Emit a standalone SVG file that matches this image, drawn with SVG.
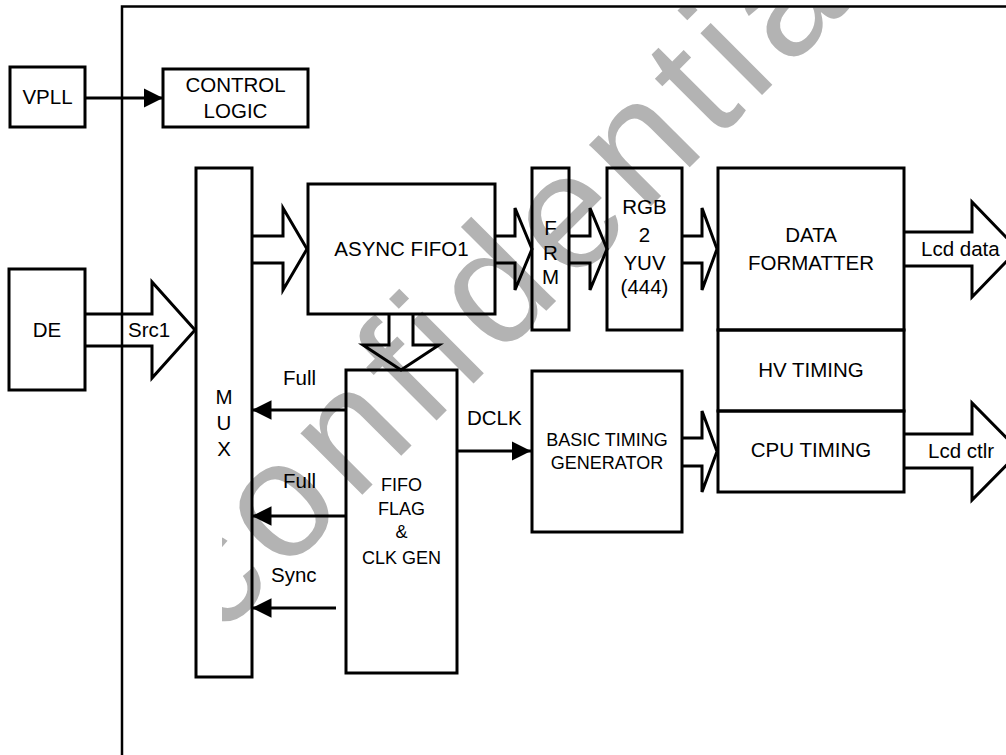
<svg xmlns="http://www.w3.org/2000/svg" width="1006" height="755" viewBox="0 0 1006 755">
<style>
.box{fill:none;stroke:#000;stroke-width:3}
.blk{fill:none;stroke:#000;stroke-width:3;stroke-linejoin:miter}
.ln{fill:none;stroke:#000;stroke-width:3}
.t{font-family:"Liberation Sans",Arial,sans-serif;font-size:20.5px;fill:#000;text-anchor:middle}
.s{font-size:18px}
.l{text-anchor:start}
.wm{font-family:"Liberation Sans",Arial,sans-serif;font-size:165px;fill:#b3b3b3;letter-spacing:10px}
</style>
<defs>
<marker id="ah" viewBox="0 0 10 10" refX="10" refY="5" markerWidth="6.5" markerHeight="7" markerUnits="strokeWidth" orient="auto">
<path d="M0,0 L10,5 L0,10 z" fill="#000"/>
</marker>
<clipPath id="wmclip"><rect x="222" y="7.5" width="784" height="748"/></clipPath>
</defs>
<rect width="1006" height="755" fill="#fff"/>
<g id="watermark" clip-path="url(#wmclip)">
<text class="wm" x="217" y="640" transform="rotate(-45 217 640)">confidential</text>
</g>
<path id="frame" d="M122,755 V6.5 H1006" fill="none" stroke="#000" stroke-width="2.5"/>
<g id="vpll"><rect class="box" x="10" y="67" width="75" height="60"/><text class="t" x="47.5" y="104">VPLL</text></g>
<g id="control_logic"><rect class="box" x="163" y="69" width="145" height="58"/><text class="t" x="235.5" y="92">CONTROL</text><text class="t" x="235.5" y="118">LOGIC</text></g>
<g id="de"><rect class="box" x="9" y="269" width="76" height="121"/><text class="t" x="47" y="337">DE</text></g>
<g id="mux"><rect class="box" x="196" y="168" width="56" height="509"/><text class="t" x="224" y="404">M</text><text class="t" x="224" y="430">U</text><text class="t" x="224" y="456">X</text></g>
<g id="async_fifo1"><rect class="box" x="308" y="184" width="187" height="130"/><text class="t" x="401.5" y="256">ASYNC FIFO1</text></g>
<g id="frm"><rect class="box" x="532" y="168" width="37" height="162"/><text class="t" x="550.5" y="235">F</text><text class="t" x="550.5" y="260">R</text><text class="t" x="550.5" y="284">M</text></g>
<g id="rgb2yuv"><rect class="box" x="607" y="168" width="75" height="162"/><text class="t" x="644.5" y="214">RGB</text><text class="t" x="644.5" y="242">2</text><text class="t" x="644.5" y="270">YUV</text><text class="t" x="644.5" y="294">(444)</text></g>
<g id="data_formatter"><rect class="box" x="718" y="168" width="186" height="162"/><text class="t" x="811" y="242">DATA</text><text class="t" x="811" y="270">FORMATTER</text></g>
<g id="hv_timing"><rect class="box" x="718" y="330" width="186" height="81"/><text class="t" x="811" y="377">HV TIMING</text></g>
<g id="cpu_timing"><rect class="box" x="718" y="411" width="186" height="81"/><text class="t" x="811" y="457">CPU TIMING</text></g>
<g id="fifo_flag"><rect class="box" x="346" y="370" width="111" height="303"/><text class="t s" x="401.5" y="491">FIFO</text><text class="t s" x="401.5" y="515">FLAG</text><text class="t s" x="401.5" y="538">&amp;</text><text class="t s" x="401.5" y="564">CLK GEN</text></g>
<g id="basic_timing"><rect class="box" x="532" y="371" width="150" height="161"/><text class="t s" x="607" y="446">BASIC TIMING</text><text class="t s" x="607" y="469">GENERATOR</text></g>
<g id="connectors">
<line class="ln" x1="85" y1="98" x2="163" y2="98" marker-end="url(#ah)"/>
<polyline class="blk" points="85,314 152,314 152,282 195,330 152,378 152,346 85,346"/>
<polyline class="blk" points="252,236 283,236 283,208 307,249 283,290 283,263 252,263"/>
<polyline class="blk" points="495,236 515,236 515,208 532,249 515,290 515,263 495,263"/>
<polyline class="blk" points="569,236 590,236 590,208 607,249 590,290 590,263 569,263"/>
<polyline class="blk" points="682,236 702,236 702,208 717,249 702,290 702,263 682,263"/>
<polyline class="blk" points="904,232 972,232 972,202 1018,249.5 972,297 972,266 904,266"/>
<polyline class="blk" points="389,314 389,345 363,345 401,370 439,345 413,345 413,314"/>
<polyline class="blk" points="682,438 702,438 702,411 717,451.5 702,492 702,466 682,466"/>
<polyline class="blk" points="904,434 972,434 972,403 1020,451.5 972,500 972,468 904,468"/>
<line class="ln" x1="346" y1="410" x2="252" y2="410" marker-end="url(#ah)"/>
<line class="ln" x1="346" y1="516" x2="252" y2="516" marker-end="url(#ah)"/>
<line class="ln" x1="336" y1="608" x2="252" y2="608" marker-end="url(#ah)"/>
<line class="ln" x1="457" y1="451" x2="531" y2="451" marker-end="url(#ah)"/>
<text class="t l" x="128" y="337">Src1</text>
<text class="t l" x="921" y="256">Lcd data</text>
<text class="t l" x="928" y="458">Lcd ctlr</text>
<text class="t l" x="283" y="385">Full</text>
<text class="t l" x="283" y="488">Full</text>
<text class="t l" x="271" y="582">Sync</text>
<text class="t l" x="467" y="425">DCLK</text>
</g>
</svg>
